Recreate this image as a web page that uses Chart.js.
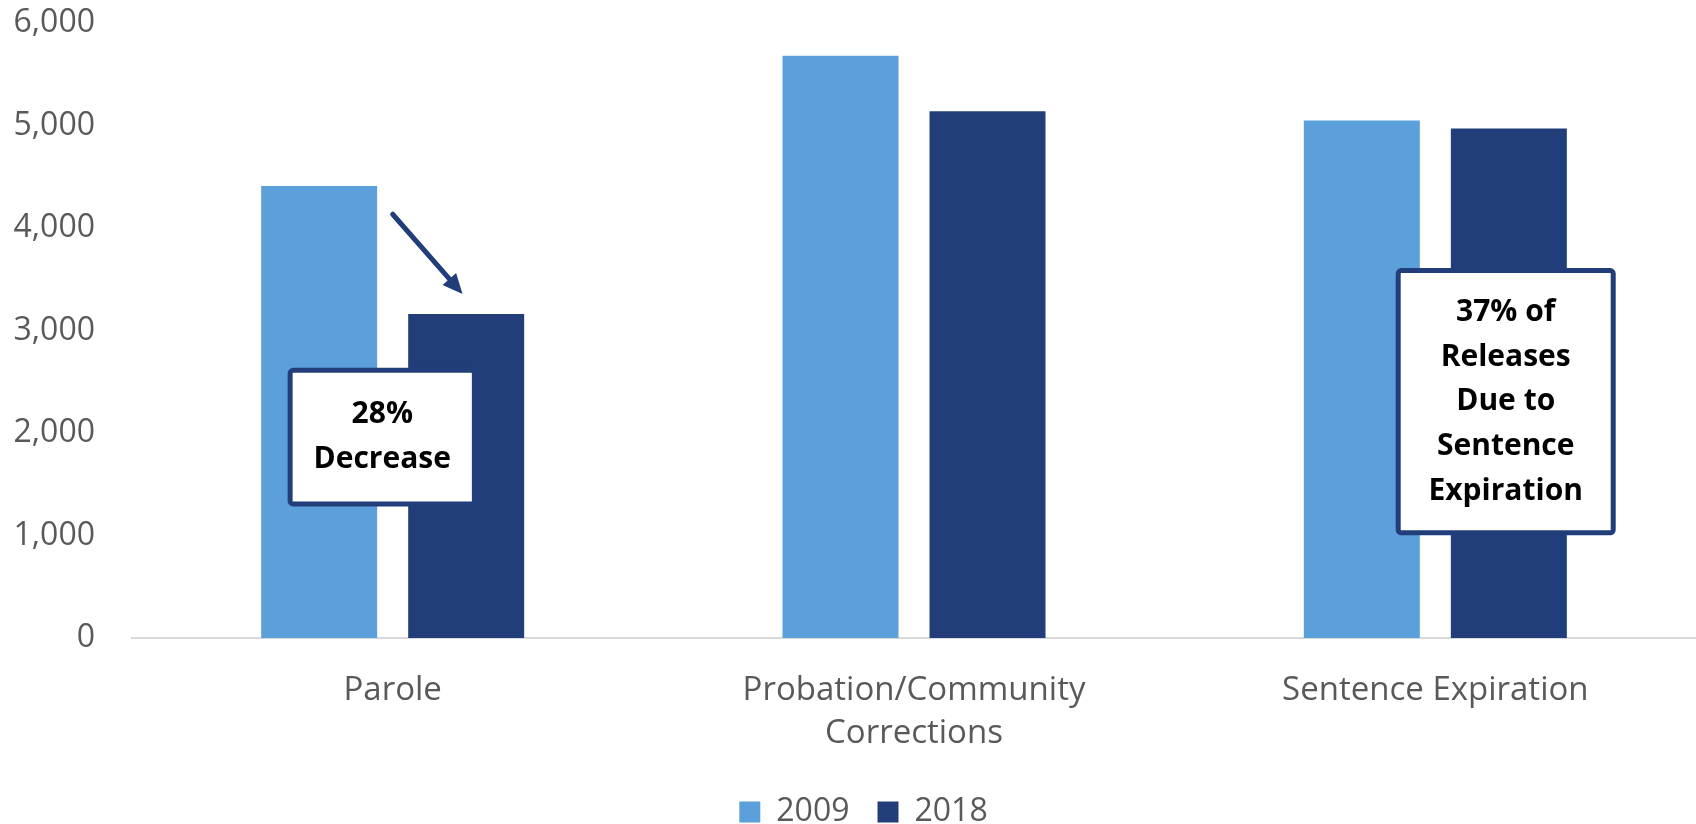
<!DOCTYPE html>
<html><head><meta charset="utf-8">
<script src="https://cdn.jsdelivr.net/npm/chart.js@4.4.0/dist/chart.umd.min.js"></script>
<style>html,body{margin:0;padding:0;background:#fff;}#wrap{width:1696px;height:824px;position:relative;}</style>
</head><body><div id="wrap"><canvas id="c" width="1696" height="824"></canvas></div>
<script>
const categories = [["Parole"], ["Probation/Community", "Corrections"], ["Sentence Expiration"]];
const seriesNames = ["2009", "2018"];
const values2009 = [4410, 5680, 5050];
const values2018 = [3160, 5140, 4970];
const yMin = 0, yMax = 6000, yStep = 1000;

// annotation boxes: anchored to category index + offset (in category units) and y values
const noteBoxes = [
  { cat: 0, dx: -0.02, w: 0.363, yTop: 2636, yBottom: 1284, lines: ["28%", "Decrease"] },
  { cat: 2, dx: 0.135, w: 0.422, yTop: 3609, yBottom: 1002, lines: ["37% of", "Releases", "Due to", "Sentence", "Expiration"] }
];
const noteArrow = { cat: 0, fromDx: 0.0, fromY: 4134, toDx: 0.134, toY: 3356 };

const NAVY = '#223E7A';
const LIGHT = '#5B9FDB';

const legendShift = {
  id: 'legendShift',
  afterUpdate(chart) {
    const lg = chart.legend;
    if (lg) { lg.left += 31; lg.adjustHitBoxes && lg.adjustHitBoxes(); }
  }
};

const annotPlugin = {
  id: 'annot',
  afterDatasetsDraw(chart) {
    const ctx = chart.ctx, xs = chart.scales.x, ys = chart.scales.y;
    const catW = xs.getPixelForValue(1) - xs.getPixelForValue(0);
    ctx.save();
    const ax1 = xs.getPixelForValue(noteArrow.cat) + noteArrow.fromDx * catW;
    const ay1 = ys.getPixelForValue(noteArrow.fromY);
    const ax2 = xs.getPixelForValue(noteArrow.cat) + noteArrow.toDx * catW;
    const ay2 = ys.getPixelForValue(noteArrow.toY);
    const ang = Math.atan2(ay2 - ay1, ax2 - ax1);
    const headLen = 20, headW = 9;
    const bx = ax2 - headLen * Math.cos(ang), by = ay2 - headLen * Math.sin(ang);
    ctx.strokeStyle = NAVY; ctx.fillStyle = NAVY; ctx.lineWidth = 5; ctx.lineCap = 'round';
    ctx.beginPath(); ctx.moveTo(ax1, ay1); ctx.lineTo(bx, by); ctx.stroke();
    ctx.beginPath();
    ctx.moveTo(ax2, ay2);
    ctx.lineTo(bx + headW * Math.sin(ang), by - headW * Math.cos(ang));
    ctx.lineTo(bx - headW * Math.sin(ang), by + headW * Math.cos(ang));
    ctx.closePath(); ctx.fill();
    noteBoxes.forEach(b => {
      const cx = xs.getPixelForValue(b.cat) + b.dx * catW;
      const w = b.w * catW;
      const top = ys.getPixelForValue(b.yTop), bot = ys.getPixelForValue(b.yBottom);
      const x0 = cx - w / 2;
      ctx.fillStyle = '#ffffff';
      ctx.strokeStyle = NAVY; ctx.lineWidth = 5; ctx.lineJoin = 'round';
      ctx.beginPath();
      ctx.roundRect(x0 + 2.5, top + 2.5, w - 5, bot - top - 5, 3);
      ctx.fill(); ctx.stroke();
      ctx.fillStyle = '#000000';
      ctx.font = 'bold 30px "Open Sans", sans-serif';
      ctx.textAlign = 'center'; ctx.textBaseline = 'middle';
      const lh = 44.7;
      const mid = (top + bot) / 2;
      b.lines.forEach((t, i) => {
        ctx.fillText(t, cx, mid + (i - (b.lines.length - 1) / 2) * lh);
      });
    });
    ctx.restore();
  }
};

new Chart(document.getElementById('c'), {
  type: 'bar',
  data: {
    labels: categories,
    datasets: [
      { label: seriesNames[0], data: values2009, backgroundColor: LIGHT, categoryPercentage: 0.564, barPercentage: 0.789 },
      { label: seriesNames[1], data: values2018, backgroundColor: NAVY, categoryPercentage: 0.564, barPercentage: 0.789 }
    ]
  },
  options: {
    responsive: false,
    animation: false,
    layout: { padding: { top: 0, right: 0, left: 0, bottom: -14 } },
    font: { family: '"Open Sans", sans-serif' },
    plugins: {
      tooltip: { enabled: false },
      legend: {
        position: 'bottom',
        labels: {
          color: '#595959',
          font: { family: '"Open Sans", sans-serif', size: 32 },
          boxWidth: 21, boxHeight: 21, padding: 28
        }
      }
    },
    scales: {
      x: {
        grid: { display: false, drawTicks: false },
        border: { display: true, color: '#D9D9D9', width: 2 },
        ticks: { color: '#595959', font: { family: '"Open Sans", sans-serif', size: 33, lineHeight: 1.3 }, padding: 31, maxRotation: 0 },
        afterFit(s) { s.height = 130; }
      },
      y: {
        min: yMin, max: yMax,
        grid: { display: false, drawTicks: false },
        border: { display: false },
        ticks: {
          stepSize: yStep, color: '#595959', padding: 37,
          font: { family: '"Open Sans", sans-serif', size: 32 },
          callback: v => v.toLocaleString('en-US')
        },
        afterFit(s) { s.width = 132; s.paddingTop = 23; s.paddingBottom = 10; }
      }
    }
  },
  plugins: [legendShift, annotPlugin]
});
</script></body></html>
